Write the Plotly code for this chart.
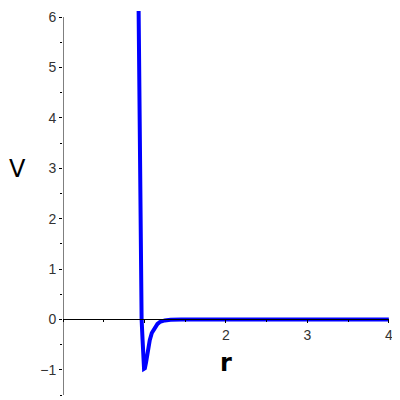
"""
Potential well V(r) redrawn from the Maple-style reference plot.
"""

import plotly.graph_objects as go

# Curve samples (r, V)
r_vals = [0.928, 0.935, 0.945, 0.955, 0.965, 0.977, 0.986, 0.995, 1.005,
          1.02, 1.034, 1.05, 1.065, 1.09, 1.115, 1.136, 1.16, 1.19, 1.25,
          1.32, 1.45, 2.0, 3.0, 4.0]
v_vals = [6.2, 5.0, 2.8, 1.0, 0.0, -0.41, -0.7, -0.98, -0.97,
          -0.85, -0.67, -0.53, -0.41, -0.27, -0.19, -0.146, -0.09, -0.05, -0.02,
          -0.008, 0.0, 0.0, 0.0, 0.0]

# Axis ticks
x_tickvals = [1, 2, 3, 4]
x_ticktext = ["", "2", "3", "4"]
y_tickvals = [-1, 0, 1, 2, 3, 4, 5, 6]
y_ticktext = ["\u22121", "0", "1", "2", "3", "4", "5", "6"]

X_RANGE = [0, 4.002]
Y_RANGE = [-1.5, 6.12]
Y_AXIS_TOP = 6

tick_font = dict(family="Liberation Sans", size=14, color="#333333")
label_font = dict(family="DejaVu Sans", size=24, color="black")

fig = go.Figure()

fig.add_trace(
    go.Scatter(
        x=r_vals,
        y=v_vals,
        mode="lines",
        line=dict(color="#0000ff", width=4),
        showlegend=False,
        hoverinfo="skip",
    )
)

# x axis crosses at V = 0
x_pos = (0 - Y_RANGE[0]) / (Y_RANGE[1] - Y_RANGE[0])

fig.update_xaxes(
    range=X_RANGE,
    anchor="free",
    position=x_pos,
    showline=True,
    linecolor="black",
    linewidth=1,
    ticks="outside",
    ticklen=3,
    tickcolor="black",
    tickvals=x_tickvals,
    ticktext=x_ticktext,
    tickfont=tick_font,
    ticklabeloverflow="allow",
    minor=dict(dtick=0.5, ticks="outside", ticklen=2, tickcolor="black"),
    showgrid=False,
    zeroline=False,
)
fig.update_yaxes(
    range=Y_RANGE,
    showline=False,
    ticks="outside",
    ticklen=3,
    tickcolor="black",
    tickvals=y_tickvals,
    ticktext=y_ticktext,
    tickfont=tick_font,
    ticklabeloverflow="allow",
    minor=dict(dtick=0.5, ticks="outside", ticklen=2, tickcolor="black"),
    showgrid=False,
    zeroline=False,
)

# y axis line stops at the top tick, curve runs a little past it
fig.add_shape(
    type="line",
    xref="x",
    yref="y",
    x0=X_RANGE[0],
    x1=X_RANGE[0],
    y0=Y_RANGE[0],
    y1=Y_AXIS_TOP,
    line=dict(color="black", width=1),
)

fig.add_annotation(
    text="V", xref="paper", yref="y", x=-0.14, y=2.98,
    showarrow=False, font=label_font, xanchor="center", yanchor="middle",
)
fig.add_annotation(
    text="<b>r</b>", xref="x", yref="y", x=2.0, y=-0.87,
    showarrow=False, font=label_font, xanchor="center", yanchor="middle",
)

# page body adds an 8px offset, so the figure is drawn 8px smaller
fig.update_layout(
    width=392,
    height=392,
    margin=dict(l=55, r=11, t=1, b=5),
    plot_bgcolor="white",
    paper_bgcolor="white",
    showlegend=False,
)

fig.write_html("out.html")
